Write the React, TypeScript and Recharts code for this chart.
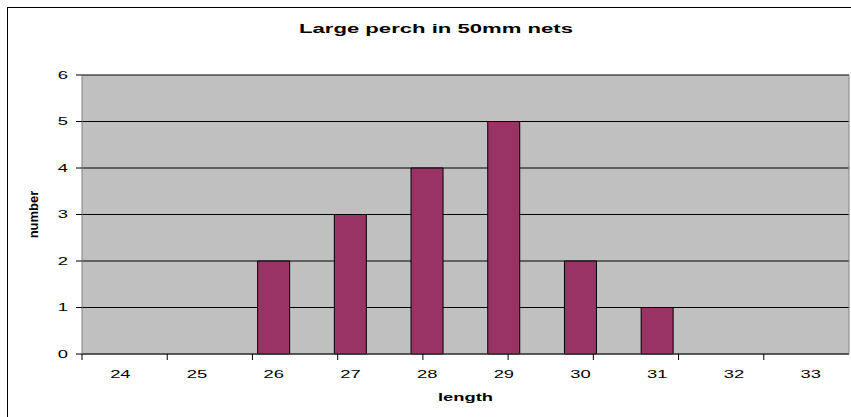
import { BarChart, Bar, XAxis, YAxis, CartesianGrid, Label } from "recharts";

const lengths = ["24", "25", "26", "27", "28", "29", "30", "31", "32", "33"];
const counts = [0, 0, 2, 3, 4, 5, 2, 1, 0, 0];
const yTicks = [0, 1, 2, 3, 4, 5, 6];
const boundaryTicks = [0, 1, 2, 3, 4, 5, 6, 7, 8, 9, 10];

const data = lengths.map((l, i) => ({ length: l, number: counts[i] }));

const FONT = '"Liberation Sans", Arial, sans-serif';
// the original picture is stretched sideways, so the text is too
const STRETCH = 1.67;

function XTick(props: any) {
  const { x, y, payload } = props;
  return (
    <text transform={`translate(${x},${y + 20}) scale(${STRETCH},1)`} textAnchor="middle" dy="0.355em" fontSize={11} fontFamily={FONT} fill="#000">
      {payload.value}
    </text>
  );
}

function YTick(props: any) {
  const { x, y, payload } = props;
  return (
    <text transform={`translate(${x},${y}) scale(${STRETCH},1)`} textAnchor="end" dy="0.355em" fontSize={11} fontFamily={FONT} fill="#000">
      {payload.value}
    </text>
  );
}

function XTitle(props: any) {
  const { viewBox } = props;
  const cx = viewBox.x + viewBox.width / 2;
  return (
    <text transform={`translate(${cx},${viewBox.y + 43}) scale(${STRETCH},1)`} textAnchor="middle" dy="0.355em" fontSize={11} fontWeight="bold" fontFamily={FONT} fill="#000">
      length
    </text>
  );
}

export default function App() {
  return (
    <div style={{ position: "absolute", left: 0, top: 0, width: 851, height: 417, overflow: "hidden", background: "#fff", fontFamily: FONT }}>
      <div style={{ position: "absolute", left: 0, top: 21, width: 872, textAlign: "center", fontWeight: "bold", fontSize: 13, transform: `scaleX(1.7)`, transformOrigin: "436px 0" }}>
        Large perch in 50mm nets
      </div>
      <div style={{ position: "absolute", left: 0, top: 0 }}>
        <BarChart width={851} height={417} data={data} margin={{ top: 75, right: 1, left: 32, bottom: 61 }} barCategoryGap="29%">
          <CartesianGrid vertical={false} stroke="#000" fill="#C0C0C0" />
          {/* category labels; the tick marks sit on the category edges in the original, drawn by the second axis */}
          <XAxis dataKey="length" axisLine={{ stroke: "#404040" }} tickLine={false} tickSize={0} tickMargin={0} height={1} tick={<XTick />}>
            <Label content={<XTitle />} />
          </XAxis>
          <XAxis
            xAxisId="bounds"
            type="number"
            domain={[0, 10]}
            ticks={boundaryTicks}
            tickFormatter={() => ""}
            tickSize={6}
            height={1}
            axisLine={false}
            tickLine={{ stroke: "#000", transform: "translate(0,-1)" }}
          />
          <YAxis
            domain={[0, 6]}
            ticks={yTicks}
            width={50}
            tickSize={6}
            tickMargin={8}
            axisLine={{ stroke: "#808080" }}
            tickLine={{ stroke: "#000" }}
            tick={<YTick />}
            label={{ value: "number", angle: -90, position: "insideLeft", offset: 1, fill: "#000", fontSize: 13, fontWeight: "bold", fontFamily: FONT, style: { textAnchor: "middle" } }}
          />
          <YAxis yAxisId="edge" orientation="right" width={1} domain={[0, 6]} tick={false} tickLine={false} axisLine={{ stroke: "#808080" }} />
          <Bar dataKey="number" fill="#993366" stroke="#000" strokeWidth={1} isAnimationActive={false} />
        </BarChart>
      </div>
      <div style={{ position: "absolute", left: 7, top: 7, width: 880, height: 440, border: "1.5px solid #000", pointerEvents: "none" }} />
    </div>
  );
}
